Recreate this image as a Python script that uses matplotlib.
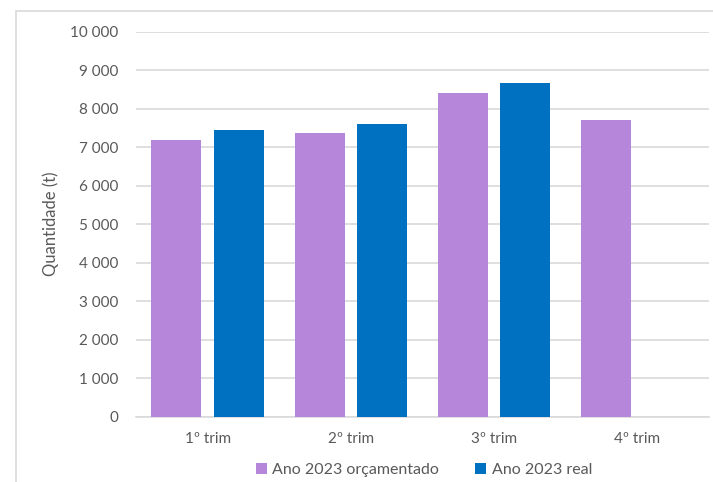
import matplotlib
matplotlib.use("Agg")
import matplotlib.pyplot as plt
import numpy as np
from matplotlib.patches import Rectangle
from matplotlib.ticker import FuncFormatter

categories = ["1º trim", "2º trim", "3º trim", "4º trim"]
orcamentado = [7190, 7370, 8400, 7710]
real = [7440, 7610, 8670, np.nan]
series_names = ["Ano 2023 orçamentado", "Ano 2023 real"]

purple = "#B586D9"
blue = "#0070C0"
text_col = "#595959"
grid_col = "#D9D9D9"

plt.rcParams["font.family"] = ["Lato", "DejaVu Sans"]

fig = plt.figure(figsize=(7.13, 4.82), dpi=100)
ax = fig.add_axes([136/713, (482-416.5)/482, (709-136)/713, (416.5-31.7)/482])

x = np.arange(len(categories))
w = 0.35
off = 0.218
ax.bar(x - off, orcamentado, w, color=purple, label=series_names[0], zorder=3)
ax.bar(x + off, real, w, color=blue, label=series_names[1], zorder=3)

ax.set_xlim(-0.5, len(categories) - 0.5)
ax.set_ylim(0, 10000)
ax.set_yticks(np.arange(0, 10001, 1000))
ax.yaxis.set_major_formatter(FuncFormatter(lambda v, p: f"{int(v):,}".replace(",", " ")))
ax.set_xticks(x)
ax.set_xticklabels(categories)
ax.grid(axis="y", color=grid_col, linewidth=1.2, zorder=0)
for s in ["top", "right", "left"]:
    ax.spines[s].set_visible(False)
ax.spines["bottom"].set_color(grid_col)
ax.spines["bottom"].set_linewidth(1.2)
ax.tick_params(axis="both", length=0, colors=text_col, labelsize=11)
ax.tick_params(axis="y", pad=13)
ax.tick_params(axis="x", pad=11)
ax.set_ylabel("Quantidade (t)", color=text_col, fontsize=12)
ax.yaxis.set_label_coords(-0.134, 0.5)

leg = ax.legend(loc="center", bbox_to_anchor=(424/713, (482-470)/482),
                bbox_transform=fig.transFigure, ncol=2, frameon=False,
                fontsize=11.5, handlelength=0.7, handleheight=0.7,
                handletextpad=0.35, columnspacing=2.25, labelcolor=text_col)

fig.patches.append(Rectangle((16/713, -0.1), 1.2, (482-11)/482 + 0.1,
                             transform=fig.transFigure, fill=False,
                             edgecolor="#D9D9D9", linewidth=1.2, zorder=-1))

fig.savefig("out.png", dpi=100, facecolor="white")
